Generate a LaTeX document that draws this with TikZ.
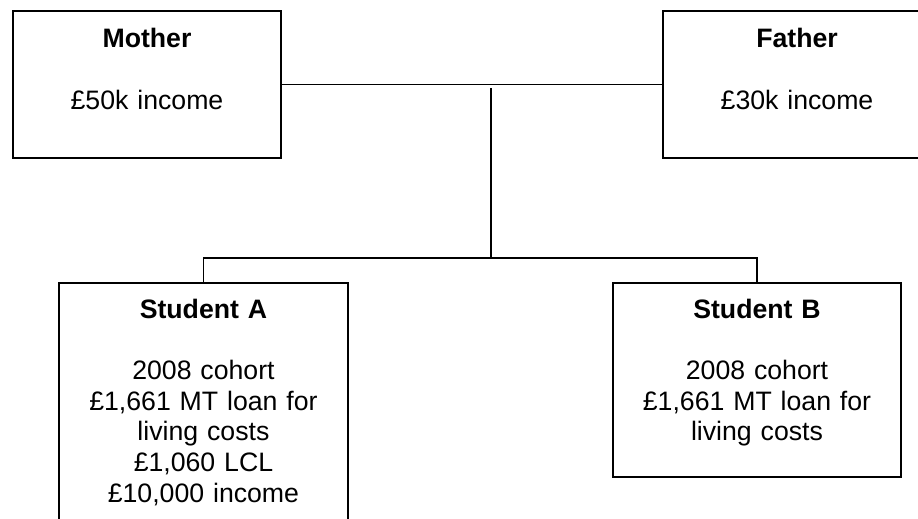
\documentclass[tikz,border=0pt]{standalone}
\usepackage{fontspec}
\setmainfont{Liberation Sans}
\usepackage{tikz}
\usetikzlibrary{calc}

\tikzset{
  famBox/.style={draw, line width=0.9pt, inner sep=0pt, align=center,
                 anchor=north west, font=\fontsize{12}{13.8}\selectfont},
  link/.style={line width=0.8pt}
}

\begin{document}
\begin{tikzpicture}[x=0.45pt, y=-0.45pt]
  % frame of the picture
  \clip (0,0) rectangle (918,518);
  % draw parents
  \node[famBox, text width=120.6pt, text height=16.5pt, text depth=49.65pt]
        (mother) at (12,10) {\textbf{Mother}\\[13.8pt]£50k income};
  \node[famBox, text width=120.6pt, text height=16.5pt, text depth=49.65pt]
        (father) at (662,10) {\textbf{Father}\\[13.8pt]£30k income};
  % draw students
  \node[famBox, text width=130pt, text height=15.75pt, text depth=101.25pt]
        (studA) at (58,282) {\textbf{Student A}\\[13.8pt]2008 cohort\\
        £1,661 MT loan for\\living costs\\£1,060 LCL\\£10,000 income};
  \node[famBox, text width=129.6pt, text height=15.75pt, text depth=71.55pt]
        (studB) at (612,282) {\textbf{Student B}\\[13.8pt]2008 cohort\\
        £1,661 MT loan for\\living costs};
  % draw links
  \coordinate (hub) at (491,88);
  \coordinate (split) at (491,258);
  \draw[link] (mother.east) -- (father.west);
  \draw[link] (hub) -- (split);
  \draw[link] (studA.north) |- (split) -| (studB.north);
\end{tikzpicture}
\end{document}
